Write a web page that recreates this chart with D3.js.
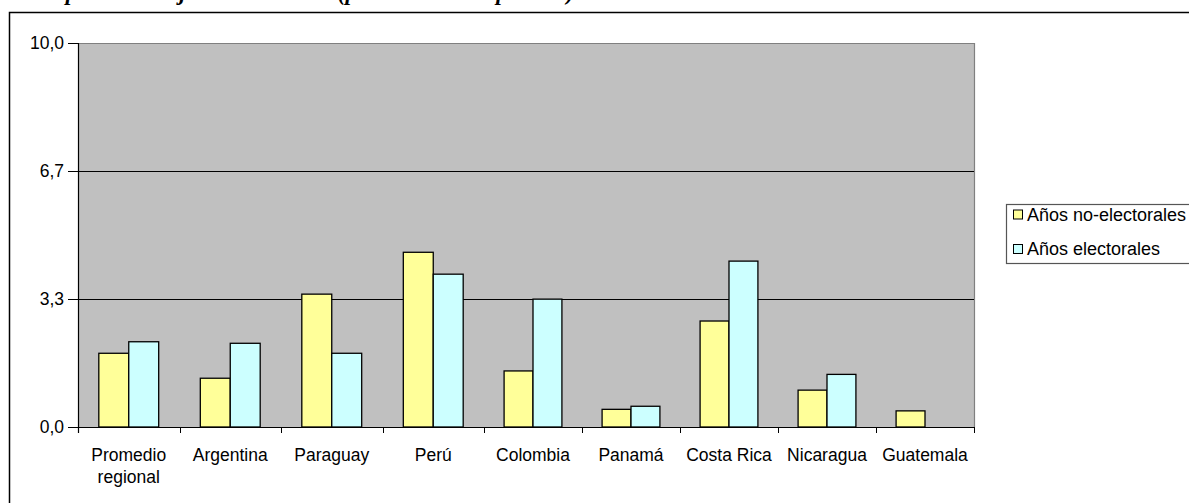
<!DOCTYPE html>
<html>
<head>
<meta charset="utf-8">
<script src="https://cdn.jsdelivr.net/npm/d3@7"></script>
<style>
  html, body { margin: 0; padding: 0; background: #fff; overflow: hidden; }
  svg { display: block; }
  text { font-family: "Liberation Sans", Arial, sans-serif; fill: #000; }
</style>
</head>
<body>
<script>
// ---- data ----
const categories = ["Promedio regional", "Argentina", "Paraguay", "Perú", "Colombia", "Panamá", "Costa Rica", "Nicaragua", "Guatemala"];
const seriesNames = ["Años no-electorales", "Años electorales"];
const noElectorales = [1.92, 1.27, 3.46, 4.55, 1.46, 0.46, 2.76, 0.96, 0.42];
const electorales   = [2.22, 2.18, 1.92, 3.98, 3.33, 0.54, 4.32, 1.37, null];
const yTickValues = [0, 3.333, 6.667, 10];
const yTickLabels = ["0,0", "3,3", "6,7", "10,0"];
const titleText = "Percepción de mejoría económica (promedio de respuestas)";

const seriesValues = [noElectorales, electorales];
const colors = ["#FFFF99", "#CCFFFF"];

(function () {
const W = 1189, H = 503;
const svg = d3.select("body").append("svg").attr("width", W).attr("height", H);
svg.append("rect").attr("width", W).attr("height", H).attr("fill", "#fff");

// title (only the bottom of its descenders is visible above the frame)
svg.append("text")
  .attr("x", 12).attr("y", 0)
  .style("font-family", "'Liberation Serif', 'Times New Roman', serif")
  .style("font-weight", "bold").style("font-style", "italic")
  .style("font-size", "23px")
  .text(titleText);

// outer chart frame
svg.append("rect")
  .attr("x", 9.5).attr("y", 12.5).attr("width", 1300).attr("height", 600)
  .attr("fill", "#fff").attr("stroke", "#000").attr("stroke-width", 1.5);

const pL = 78, pR = 974, pT = 43, pB = 427;

// scales
const y = d3.scaleLinear().domain([0, 10]).range([pB, pT]);
const xIdx = d3.scaleLinear().domain([0, 4, categories.length]).range([pL, 484, pR]);

// plot area
svg.append("rect")
  .attr("x", pL).attr("y", pT).attr("width", pR - pL).attr("height", pB - pT)
  .attr("fill", "#C0C0C0");
svg.append("path")
  .attr("d", `M${pL},${pT + 0.5}H${pR + 0.5}V${pB}`)
  .attr("fill", "none").attr("stroke", "#808080").attr("stroke-width", 1.2);

// gridlines
svg.append("g").selectAll("line")
  .data(yTickValues.slice(1, -1)).join("line")
  .attr("x1", pL).attr("x2", pR)
  .attr("y1", d => Math.round(y(d)) + 0.5).attr("y2", d => Math.round(y(d)) + 0.5)
  .attr("stroke", "#000").attr("stroke-width", 1);

// bars
const bars = svg.append("g");
categories.forEach((c, i) => {
  const x0 = xIdx(i), x1 = xIdx(i + 1), bw = x1 - x0;
  seriesValues.forEach((vals, j) => {
    const v = vals[i];
    if (v == null) return;
    bars.append("rect")
      .attr("x", x0 + (0.205 + j * 0.295) * bw)
      .attr("width", 0.295 * bw)
      .attr("y", y(v))
      .attr("height", y(0) - y(v))
      .attr("fill", colors[j])
      .attr("stroke", "#000").attr("stroke-width", 1.3);
  });
});

// y axis
const yAxis = svg.append("g");
yAxis.append("line").attr("x1", pL + 0.5).attr("x2", pL + 0.5).attr("y1", pT).attr("y2", pB + 6)
  .attr("stroke", "#000").attr("stroke-width", 1.2);
yAxis.selectAll("line.t").data(yTickValues).join("line").attr("class", "t")
  .attr("x1", pL - 10).attr("x2", pL)
  .attr("y1", d => Math.round(y(d)) + 0.5).attr("y2", d => Math.round(y(d)) + 0.5)
  .attr("stroke", "#000");
yAxis.selectAll("text").data(yTickValues).join("text")
  .attr("x", pL - 14).attr("y", d => y(d))
  .attr("text-anchor", "end").attr("dominant-baseline", "central")
  .style("font-size", "17.5px")
  .text((d, i) => yTickLabels[i]);

// x axis
const xAxis = svg.append("g");
xAxis.append("line").attr("x1", pL).attr("x2", pR + 1).attr("y1", pB + 0.5).attr("y2", pB + 0.5)
  .attr("stroke", "#000").attr("stroke-width", 1.2);
xAxis.selectAll("line.t").data(d3.range(categories.length + 1)).join("line").attr("class", "t")
  .attr("x1", d => Math.round(xIdx(d)) + 0.5).attr("x2", d => Math.round(xIdx(d)) + 0.5)
  .attr("y1", pB).attr("y2", pB + 6)
  .attr("stroke", "#000");
const labels = xAxis.selectAll("text").data(categories).join("text")
  .attr("text-anchor", "middle")
  .style("font-size", "17.5px");
labels.each(function(d, i) {
  const cx = (xIdx(i) + xIdx(i + 1)) / 2;
  const words = d === "Promedio regional" ? ["Promedio", "regional"] : [d];
  const t = d3.select(this);
  words.forEach((w, k) => {
    t.append("tspan").attr("x", cx).attr("y", 461 + k * 21.5).text(w);
  });
});

// legend
const lg = svg.append("g");
lg.append("rect").attr("x", 1006.5).attr("y", 204.5).attr("width", 300).attr("height", 59)
  .attr("fill", "#fff").attr("stroke", "#555").attr("stroke-width", 1.2);
seriesNames.forEach((s, j) => {
  const cy = 214.5 + j * 34.5;
  lg.append("rect").attr("x", 1013.5).attr("y", cy - 4.5).attr("width", 9).attr("height", 9)
    .attr("fill", colors[j]).attr("stroke", "#000").attr("stroke-width", 1);
  lg.append("text").attr("x", 1027).attr("y", cy).attr("dominant-baseline", "central")
    .style("font-size", "18px").text(s);
});
})();
</script>
</body>
</html>
